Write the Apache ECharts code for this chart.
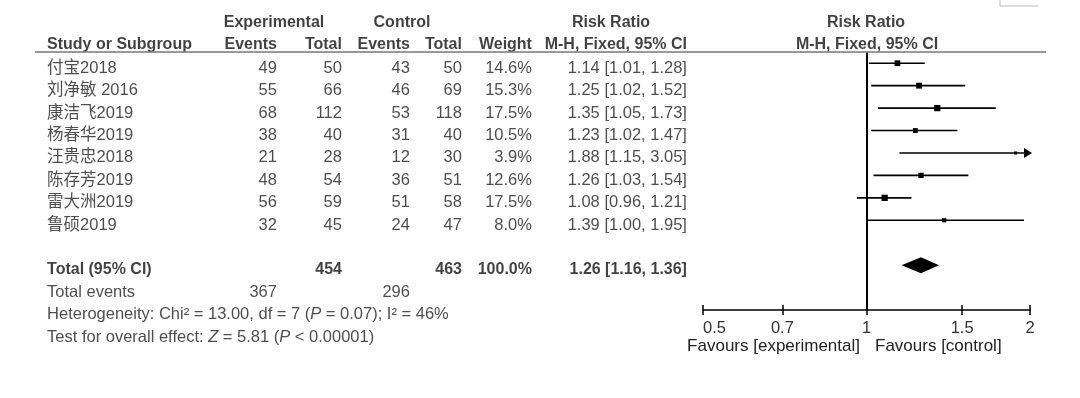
<!DOCTYPE html>
<html>
<head>
<meta charset="utf-8">
<script src="https://cdn.jsdelivr.net/npm/echarts@6/dist/echarts.min.js"></script>
<style>
    html, body { margin: 0; padding: 0; background: #fff; }
    #forest-box { width: 1080px; height: 398px; }
</style>
</head>
<body>
<div id="forest-box"></div>
<script>
// ==========================================
// 資料 (Data)
// ==========================================
var studies = ['付宝2018', '刘净敏 2016', '康洁飞2019', '杨春华2019', '汪贵忠2018', '陈存芳2019', '雷大洲2019', '鲁硕2019'];
var expEvents = [49, 55, 68, 38, 21, 48, 56, 32];
var expTotal = [50, 66, 112, 40, 28, 54, 59, 45];
var ctrlEvents = [43, 46, 53, 31, 12, 36, 51, 24];
var ctrlTotal = [50, 69, 118, 40, 30, 51, 58, 47];
var weights = [14.6, 15.3, 17.5, 10.5, 3.9, 12.6, 17.5, 8.0];
var riskRatio = [1.14, 1.25, 1.35, 1.23, 1.88, 1.26, 1.08, 1.39];
var ciLow = [1.01, 1.02, 1.05, 1.02, 1.15, 1.03, 0.96, 1.00];
var ciHigh = [1.28, 1.52, 1.73, 1.47, 3.05, 1.54, 1.21, 1.95];

var totalN = [454, 463];          // experimental, control
var totalEvents = [367, 296];
var totalWeight = 100.0;
var totalRR = [1.26, 1.16, 1.36]; // rr, low, high
var hetero = { chi2: 13.00, df: 7, p: 0.07, i2: 46 };
var overall = { z: 5.81, p: '< 0.00001' };
var axisTicks = [0.5, 0.7, 1, 1.5, 2];

// ==========================================
var FONT = "'Liberation Sans', Arial, 'Noto Sans CJK SC', sans-serif";
var TOTAL_ROW = 9;

function lg(v) { return Math.log10(v); }
function f2(v) { return v.toFixed(2); }
function ciText(r, l, h) { return f2(r) + ' [' + f2(l) + ', ' + f2(h) + ']'; }

// 欄位右邊界 (像素欄位)
var col = { study: 47, expEv: 277, expTot: 342, ctrlEv: 410, ctrlTot: 462, weight: 532, rr: 687 };

function textSeries(items, pos, bold, size) {
    return {
        type: 'scatter',
        xAxisIndex: 2,
        yAxisIndex: 1,
        silent: true,
        symbolSize: 0.1,
        itemStyle: { color: 'rgba(0,0,0,0)' },
        data: items,
        label: {
            show: true,
            position: pos,
            distance: 0,
            fontFamily: FONT,
            fontSize: size || 16.5,
            fontWeight: bold ? 'bold' : 'normal',
            color: bold ? '#111' : '#222',
            formatter: function (p) { return p.value[2]; },
            rich: {
                i: { fontFamily: FONT, fontSize: size || 16.5, fontStyle: 'italic', color: '#222' }
            }
        }
    };
}

// 表格文字
var leftItems = [], rightItems = [];
var boldLeft = [], boldRight = [], boldCenter = [];

boldCenter.push([274, -2.05, 'Experimental'], [402, -2.05, 'Control'], [611, -2.05, 'Risk Ratio'], [866, -2.05, 'Risk Ratio'],
    [867, -1.07, 'M-H, Fixed, 95% CI']);
boldLeft.push([col.study, -1.07, 'Study or Subgroup']);
boldRight.push([col.expEv, -1.07, 'Events'], [col.expTot, -1.07, 'Total'], [col.ctrlEv, -1.07, 'Events'],
    [col.ctrlTot, -1.07, 'Total'], [col.weight, -1.07, 'Weight'], [col.rr, -1.07, 'M-H, Fixed, 95% CI']);

studies.forEach(function (name, i) {
    leftItems.push([col.study, i, name]);
    rightItems.push([col.expEv, i, String(expEvents[i])]);
    rightItems.push([col.expTot, i, String(expTotal[i])]);
    rightItems.push([col.ctrlEv, i, String(ctrlEvents[i])]);
    rightItems.push([col.ctrlTot, i, String(ctrlTotal[i])]);
    rightItems.push([col.weight, i, weights[i].toFixed(1) + '%']);
    rightItems.push([col.rr, i, ciText(riskRatio[i], ciLow[i], ciHigh[i])]);
});

boldLeft.push([col.study, TOTAL_ROW, 'Total (95% CI)']);
boldRight.push([col.expTot, TOTAL_ROW, String(totalN[0])], [col.ctrlTot, TOTAL_ROW, String(totalN[1])],
    [col.weight, TOTAL_ROW, totalWeight.toFixed(1) + '%'], [col.rr, TOTAL_ROW, ciText(totalRR[0], totalRR[1], totalRR[2])]);

leftItems.push([col.study, TOTAL_ROW + 1, 'Total events']);
rightItems.push([col.expEv, TOTAL_ROW + 1, String(totalEvents[0])], [col.ctrlEv, TOTAL_ROW + 1, String(totalEvents[1])]);
leftItems.push([col.study, TOTAL_ROW + 2, 'Heterogeneity: Chi² = ' + hetero.chi2.toFixed(2) + ', df = ' + hetero.df +
    ' ({i|P} = ' + hetero.p.toFixed(2) + '); I² = ' + hetero.i2 + '%']);
leftItems.push([col.study, TOTAL_ROW + 3, 'Test for overall effect: {i|Z} = ' + overall.z.toFixed(2) + ' ({i|P} ' + overall.p + ')']);

// 森林圖：線段 + 方塊 (+ 箭頭)
var studyData = studies.map(function (n, i) {
    return [lg(riskRatio[i]), lg(ciLow[i]), lg(ciHigh[i]), weights[i], i];
});

function renderStudy(params, api) {
    var y = api.value(4);
    var pMid = api.coord([api.value(0), y]);
    var pLo = api.coord([api.value(1), y]);
    var pHi = api.coord([api.value(2), y]);
    var cs = params.coordSys;
    var xMin = cs.x, xMax = cs.x + cs.width;
    var x1 = Math.max(pLo[0], xMin), x2 = Math.min(pHi[0], xMax);
    var s = Math.max(3, 1.5 * Math.sqrt(api.value(3)));
    var children = [
        { type: 'line', shape: { x1: x1, y1: pMid[1], x2: x2, y2: pMid[1] }, style: { stroke: '#000', lineWidth: 1.6 } },
        { type: 'rect', shape: { x: pMid[0] - s / 2, y: pMid[1] - s / 2, width: s, height: s }, style: { fill: '#000' } }
    ];
    if (pHi[0] > xMax) {
        children.push({ type: 'polygon', shape: { points: [[xMax + 2, pMid[1]], [xMax - 6, pMid[1] - 5], [xMax - 6, pMid[1] + 5]] }, style: { fill: '#000' } });
    }
    if (pLo[0] < xMin) {
        children.push({ type: 'polygon', shape: { points: [[xMin - 2, pMid[1]], [xMin + 6, pMid[1] - 5], [xMin + 6, pMid[1] + 5]] }, style: { fill: '#000' } });
    }
    return { type: 'group', children: children };
}

function renderDiamond(params, api) {
    var y = api.value(3);
    var c = api.coord([api.value(0), y]);
    var l = api.coord([api.value(1), y]);
    var h = api.coord([api.value(2), y]);
    return {
        type: 'polygon',
        shape: { points: [[l[0], c[1]], [c[0], c[1] - 8], [h[0], c[1]], [c[0], c[1] + 8]] },
        style: { fill: '#000' }
    };
}

var chartDom = document.getElementById('forest-box');
var myChart = echarts.init(chartDom);
var option;

var tickValues = axisTicks.map(lg);

option = {
    animation: false,
    grid: [
        { left: 703, top: 52, width: 327, height: 258 },
        { left: 0, top: 0, width: 1080, height: 398 }
    ],
    xAxis: [
        {
            type: 'value', gridIndex: 0, position: 'bottom',
            min: lg(0.5), max: lg(2),
            splitLine: { show: false },
            axisLine: { onZero: false, lineStyle: { color: '#000', width: 1.5 } },
            axisTick: { customValues: tickValues, length: 5, lineStyle: { color: '#000', width: 1.5 } },
            axisLabel: {
                customValues: tickValues,
                fontFamily: FONT, fontSize: 16.5, color: '#333', margin: 10,
                alignMinLabel: 'left',
                formatter: function (v) {
                    for (var k = 0; k < axisTicks.length; k++) {
                        if (Math.abs(lg(axisTicks[k]) - v) < 1e-6) return String(axisTicks[k]);
                    }
                    return '';
                }
            }
        },
        {
            type: 'value', gridIndex: 0, position: 'bottom',
            min: lg(0.5), max: lg(2),
            splitLine: { show: false },
            axisLine: { show: false, onZero: false },
            axisTick: { inside: true, customValues: tickValues, length: 5, lineStyle: { color: '#000', width: 1.5 } },
            axisLabel: { show: false }
        },
        { type: 'value', gridIndex: 1, min: 0, max: 1080, show: false }
    ],
    yAxis: [
        { type: 'value', gridIndex: 0, min: -0.5, max: 11, inverse: true, show: false },
        { type: 'value', gridIndex: 1, min: -3.05, max: 14.72, inverse: true, show: false }
    ],
    graphic: [
        { type: 'line', shape: { x1: 35, y1: 52, x2: 1046, y2: 52 }, style: { stroke: '#777', lineWidth: 1.5 }, z: 10 },
        { type: 'polyline', shape: { points: [[1000, 0], [1000, 6], [1038, 6]] }, style: { stroke: '#bbb', lineWidth: 1, fill: null } },
        { type: 'text', x: 860, y: 346, style: { text: 'Favours [experimental]', fontFamily: FONT, fontSize: 17, fill: '#222', align: 'right', verticalAlign: 'middle' } },
        { type: 'text', x: 875, y: 346, style: { text: 'Favours [control]', fontFamily: FONT, fontSize: 17, fill: '#222', align: 'left', verticalAlign: 'middle' } }
    ],
    series: [
        {
            type: 'custom',
            xAxisIndex: 0, yAxisIndex: 0,
            renderItem: renderStudy,
            encode: { x: [0, 1, 2], y: 4 },
            data: studyData,
            silent: true,
            markLine: {
                silent: true,
                symbol: 'none',
                label: { show: false },
                lineStyle: { color: '#000', width: 2, type: 'solid' },
                data: [{ xAxis: 0 }]
            }
        },
        {
            type: 'custom',
            xAxisIndex: 0, yAxisIndex: 0,
            renderItem: renderDiamond,
            encode: { x: [0, 1, 2], y: 3 },
            data: [[lg(totalRR[0]), lg(totalRR[1]), lg(totalRR[2]), TOTAL_ROW]],
            silent: true
        },
        textSeries(leftItems, 'right', false),
        textSeries(rightItems, 'left', false),
        textSeries(boldLeft, 'right', true, 16),
        textSeries(boldRight, 'left', true, 16),
        textSeries(boldCenter, 'inside', true, 16)
    ]
};

option && myChart.setOption(option);
</script>
</body>
</html>
